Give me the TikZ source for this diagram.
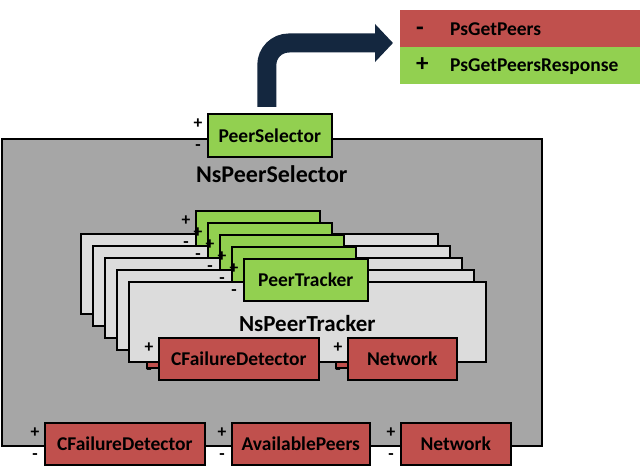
\documentclass[tikz,border=0pt]{standalone}
\usepackage{fontspec}
\setmainfont{Carlito}
\usetikzlibrary{positioning,calc,arrows.meta}
\definecolor{pgreen}{HTML}{92D050}
\definecolor{pred}{HTML}{C0504D}
\definecolor{outergray}{HTML}{A6A6A6}
\definecolor{innergray}{HTML}{DCDCDC}
\definecolor{navy}{HTML}{14273F}

\tikzset{
  box/.style={draw=black,line width=1.6pt,inner sep=0pt,anchor=north west,
    font=\bfseries\fontsize{19.5}{23}\selectfont},
  provided/.style={box,fill=pgreen,minimum height=42pt},
  required/.style={box,fill=pred,minimum height=42pt},
  container/.style={box,minimum width=#1},
  contlabel/.style={font=\bfseries\fontsize{23}{27}\selectfont,inner sep=0pt},
  portmark/.style={font=\bfseries\fontsize{17.5}{17}\selectfont,inner sep=0pt},
  legbox/.style={anchor=north west,inner xsep=16pt,inner ysep=0pt,
    minimum height=37pt,text width=208pt,align=left,
    font=\bfseries\fontsize{19.5}{23}\selectfont},
}
\newcommand{\portsigns}[1]{%
  \node[portmark] (#1-p) at ($(#1.north west)+(-9,11)$) {+};
  \node[portmark] (#1-m) at ($(#1.north west)+(-9,35)$) {-};
}
\newcommand{\legsign}[1]{\makebox[34pt][l]{\fontsize{25}{23}\selectfont #1}}

\begin{document}
\begin{tikzpicture}[x=1pt,y=-1pt]
  \useasboundingbox (0,0) rectangle (640,473);
  % outer component
  \node[container=540pt,fill=outergray,minimum height=307pt] (nssel) at (1,138) {};
  \node[contlabel,font=\bfseries\fontsize{24}{28}\selectfont] (nssellbl) at ($(nssel.north)+(0,36)$) {NsPeerSelector};
  \node[provided,minimum width=124pt,minimum height=43pt] (psel) at (207,113) {PeerSelector};
  \portsigns{psel}
  % stacked peer trackers, only the front one shows its texts
  \foreach \i in {0,...,4}{
    \pgfmathsetmacro{\d}{12*\i}
    \node[container=357pt,fill=innergray,minimum height=80pt] (trk\i) at (80+\d,233+\d) {};
    \node[required,minimum width=160pt] (tcfd\i) at ($(trk\i.north west)+(30,56)$) {};
    \node[required,minimum width=109pt] (tnet\i) at ($(trk\i.north west)+(219,56)$) {};
    \node[provided,minimum width=124pt] (ptrk\i) at ($(trk\i.north west)+(115,-23)$) {};
    \portsigns{ptrk\i}
  }
  \node[contlabel] (trklbl) at ($(trk4.center)+(0,2)$) {NsPeerTracker};
  \node[font=\bfseries\fontsize{19.5}{23}\selectfont] at (ptrk4.center) {PeerTracker};
  \node[font=\bfseries\fontsize{19.5}{23}\selectfont] at (tcfd4.center) {CFailureDetector};
  \node[font=\bfseries\fontsize{19.5}{23}\selectfont] at (tnet4.center) {Network};
  \portsigns{tcfd4}
  \portsigns{tnet4}
  % required ports of the selector
  \node[required,minimum width=160pt] (cfd) at (44,422) {CFailureDetector};
  \portsigns{cfd}
  \node[required,minimum width=138pt] (avail) at (231,422) {AvailablePeers};
  \portsigns{avail}
  \node[required,minimum width=110pt] (net) at (400,422) {Network};
  \portsigns{net}
  % events of the port
  \node[legbox,fill=pred] (legneg) at (400,10) {\legsign{-}PsGetPeers};
  \node[legbox,fill=pgreen] (legpos) at (400,47) {\legsign{+}PsGetPeersResponse};
  % bent arrow
  \coordinate (tip) at (393,43);
  \draw[white,line width=25pt,rounded corners=22pt,-{Triangle[length=23pt,width=45pt]}]
    ([xshift=-3pt,yshift=6pt]psel.north) |- ([xshift=4pt]tip);
  \draw[navy,line width=19pt,rounded corners=22pt,-{Triangle[length=18pt,width=37pt]}]
    ([xshift=-3pt,yshift=6pt]psel.north) |- (tip);
\end{tikzpicture}
\end{document}
